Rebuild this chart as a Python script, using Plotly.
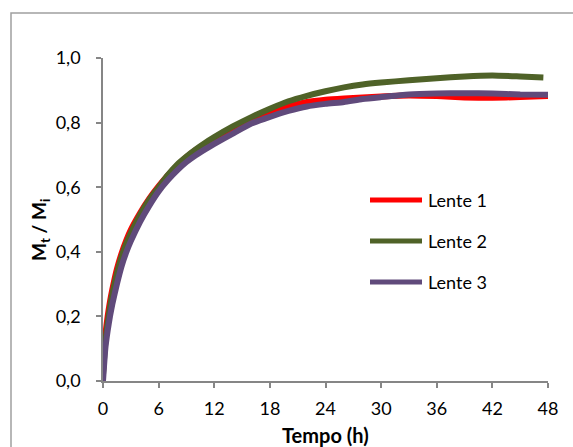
import plotly.graph_objects as go

# Time (h)
t_red = [0, 0.25, 0.5, 0.75, 1, 1.5, 2, 2.5, 3, 4, 5, 6, 7, 8, 9, 10, 11, 12, 14, 16, 18, 20,
         22, 24, 26, 28, 30, 33, 36, 39, 42, 45, 48]
lente1 = [0.03, 0.14, 0.20, 0.245, 0.283, 0.347, 0.395, 0.435, 0.468, 0.52, 0.565, 0.603, 0.637,
          0.667, 0.693, 0.715, 0.733, 0.75, 0.782, 0.808, 0.83, 0.85, 0.864, 0.871, 0.875, 0.878,
          0.881, 0.884, 0.882, 0.878, 0.877, 0.879, 0.882]

t_green = [0, 0.25, 0.5, 0.75, 1, 1.5, 2, 2.5, 3, 4, 5, 6, 7, 8, 9, 10, 11, 12, 14, 16, 18, 20,
           22, 24, 26, 28, 30, 33, 36, 39, 42, 45, 47.5]
lente2 = [0.02, 0.12, 0.18, 0.228, 0.268, 0.333, 0.385, 0.425, 0.458, 0.515, 0.562, 0.60, 0.638,
          0.67, 0.695, 0.717, 0.737, 0.755, 0.788, 0.817, 0.843, 0.866, 0.883, 0.897, 0.909, 0.918,
          0.924, 0.931, 0.937, 0.943, 0.946, 0.943, 0.94]

t_purple = [0, 0.25, 0.5, 0.75, 1, 1.5, 2, 2.5, 3, 4, 5, 6, 7, 8, 9, 10, 11, 12, 14, 16, 18, 20,
            22, 24, 26, 28, 30, 33, 36, 39, 42, 45, 48]
lente3 = [0.0, 0.10, 0.155, 0.20, 0.237, 0.30, 0.355, 0.398, 0.433, 0.493, 0.543, 0.587, 0.622,
          0.652, 0.678, 0.699, 0.717, 0.734, 0.766, 0.797, 0.818, 0.836, 0.85, 0.858, 0.864, 0.873,
          0.879, 0.887, 0.89, 0.891, 0.89, 0.887, 0.886]

names = ["Lente 1", "Lente 2", "Lente 3"]
colors = ["#FF0000", "#4F6228", "#604A7B"]
x_ticks = [0, 6, 12, 18, 24, 30, 36, 42, 48]
y_ticks = [0.0, 0.2, 0.4, 0.6, 0.8, 1.0]

FONT = "Lato"
W, H = 573, 447
L, R, T, B = 103, 25, 58, 66
pw, ph = W - L - R, H - T - B

def px_x(p):
    return (p - L) / pw

def px_y(p):
    return (H - B - p) / ph

fig = go.Figure()
for xs, ys, n, c in zip([t_red, t_green, t_purple], [lente1, lente2, lente3], names, colors):
    fig.add_trace(go.Scatter(x=xs, y=ys, name=n, mode="lines",
                             line=dict(color=c, width=6, shape="spline", smoothing=0.5),
                             showlegend=False))

axis_col = "#868686"
fig.update_layout(
    width=W, height=H,
    margin=dict(l=L, r=R, t=T, b=B),
    paper_bgcolor="white", plot_bgcolor="white",
    separators=",.",
    font=dict(family=FONT, size=18, color="black"),
    xaxis=dict(range=[0, 48], tickvals=x_ticks, ticks="outside", ticklen=5, tickwidth=1.5,
               tickcolor=axis_col, showline=True, linecolor=axis_col, linewidth=1.5,
               showgrid=False, zeroline=False, ticklabelstandoff=6,
               tickfont=dict(family=FONT, size=18)),
    yaxis=dict(range=[0, 1.0], tickvals=y_ticks, tickformat=".1f", ticks="outside", ticklen=5,
               tickwidth=1.5, tickcolor=axis_col, showline=True, linecolor=axis_col, linewidth=1.5,
               showgrid=False, zeroline=False, ticklabelstandoff=12,
               tickfont=dict(family=FONT, size=18)),
)

# chart border
fig.add_shape(type="rect", xref="paper", yref="paper",
              x0=px_x(11), x1=px_x(590), y0=px_y(470), y1=px_y(13),
              line=dict(color="#A0A0A0", width=1.5), fillcolor="rgba(0,0,0,0)", layer="below")

# legend (manual)
leg_y = [200, 241, 282]
for n, c, yy in zip(names, colors, leg_y):
    fig.add_shape(type="line", xref="paper", yref="paper",
                  x0=px_x(370), x1=px_x(422), y0=px_y(yy), y1=px_y(yy),
                  line=dict(color=c, width=5))
    fig.add_annotation(xref="paper", yref="paper", x=px_x(426), y=px_y(yy),
                       text=n, showarrow=False, xanchor="left", yanchor="middle",
                       font=dict(family=FONT, size=18, color="black"))

# axis titles
fig.add_annotation(xref="paper", yref="paper", x=px_x(40), y=px_y(230),
                   text="<b>M<sub>t</sub> / M<sub>i</sub></b>", textangle=-90, showarrow=False,
                   xanchor="center", yanchor="middle", font=dict(family=FONT, size=19, color="black"))
fig.add_annotation(xref="paper", yref="paper", x=px_x(325), y=px_y(435),
                   text="<b>Tempo (h)</b>", showarrow=False,
                   xanchor="center", yanchor="middle", font=dict(family=FONT, size=20, color="black"))

fig.write_html("out.html")
